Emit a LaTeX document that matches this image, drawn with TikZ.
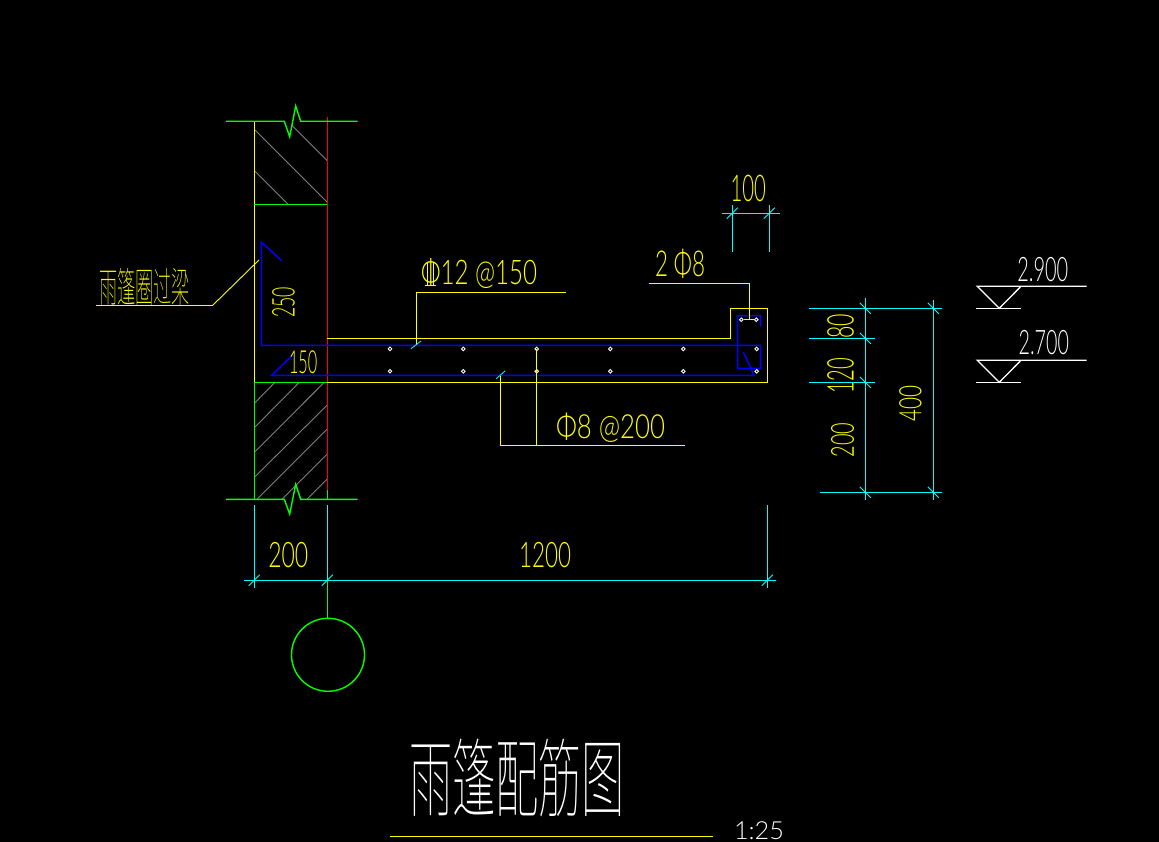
\documentclass[tikz,border=0pt]{standalone}
\usepackage{fontspec}
\usepackage{graphicx}
\IfFontExistsTF{Lato Light}{\newfontfamily\cadf{Lato Light}}{\newfontfamily\cadf{Lato}}
\IfFontExistsTF{Noto Sans CJK SC Thin}{\newfontfamily\cjkf{Noto Sans CJK SC Thin}}{\IfFontExistsTF{Noto Sans CJK SC Light}{\newfontfamily\cjkf{Noto Sans CJK SC Light}}{\newfontfamily\cjkf{Noto Sans CJK SC}}}
\definecolor{cadyellow}{RGB}{255,255,0}
\definecolor{cadgreen}{RGB}{0,255,0}
\definecolor{cadcyan}{RGB}{0,255,255}
\definecolor{cadblue}{RGB}{0,0,255}
\definecolor{cadred}{RGB}{255,0,0}
\definecolor{cadgray}{RGB}{128,128,128}
\tikzset{
  yl/.style={draw=cadyellow,line width=1.4pt},
  gr/.style={draw=cadgreen,line width=1.4pt},
  cy/.style={draw=cadcyan,line width=1.4pt},
  bl/.style={draw=cadblue,line width=1.5pt},
  rd/.style={draw=cadred,line width=1.4pt},
  wh/.style={draw=white,line width=1.3pt},
  hatchline/.style={draw=cadgray,line width=0.9pt},
  rebar/.style={circle,draw=white,fill=black,line width=0.9pt,inner sep=0pt,minimum size=3.6pt},
  txt/.style={inner sep=0pt,outer sep=0pt}
}
% name, cx, cy, w, h, rotation, colour, text
\newcommand{\cadtext}[8]{\node[txt,text=#7,rotate=#6] (#1) at (#2,#3) {\resizebox*{#4pt}{#5pt}{\cadf #8}};}
\newcommand{\cadcjk}[8]{\node[txt,text=#7,rotate=#6] (#1) at (#2,#3) {\resizebox*{#4pt}{#5pt}{\cjkf #8}};}
\newcommand{\ticka}[2]{\draw[cy,line width=0.9pt] (#1-5.5,#2+5.5) -- (#1+5.5,#2-5.5);}
\newcommand{\tickb}[2]{\draw[cy,line width=0.9pt] (#1-5.5,#2-5.5) -- (#1+5.5,#2+5.5);}
\begin{document}
\begin{tikzpicture}[x=1pt,y=-1pt]
\useasboundingbox (0,0) rectangle (1159,842);
\fill[black] (0,0) rectangle (1159,842);
% hatching
\draw[hatchline] (255,130)--(327.3,202.3) (255,171.3)--(288,204.3) (292.3,125.7)--(327.3,160.7);
\draw[hatchline] (255,402.7)--(275,382.3) (255,427)--(299.3,382.3) (255,451.7)--(324.3,382.3)
  (255,476.7)--(327.3,405) (257.3,499)--(327.3,429) (282.3,499)--(327.3,454) (307.3,499)--(327.3,479);
% wall
\draw[yl] (254.3,121.3)--(254.3,382.3);
\draw[rd] (327.3,117)--(327.3,490);
\draw[gr] (327.3,490)--(327.3,499.3);
\draw[gr] (226,121.3)--(284.3,121.3)--(289.7,136.7)--(295.7,106)--(300.7,121.3)--(357.7,121.3);
\draw[gr] (226,499.3)--(284.3,499.3)--(289.7,514)--(295.7,484.3)--(300.7,499.3)--(357.7,499.3);
\draw[gr] (254.3,204.3)--(327.3,204.3);
\draw[gr] (327.3,382.3)--(254.3,382.3)--(254.3,499.3);
% slab outline
\draw[yl] (327.3,338.3)--(730.7,338.3)--(730.7,308.3)--(767.3,308.3)--(767.3,382.3)--(327.3,382.3);
% blue bars
\draw[bl] (281.7,260.7)--(261.3,242)--(261.3,345.3)--(760.7,345.3)--(760.7,368.3)--(737.7,368.3)--(737.7,315.7)--(760.7,315.7)--(760.7,326.7);
\draw[bl] (292.7,355)--(271.7,375.3)--(754,375.3)--(743.3,352);
% rebars
\foreach \x in {390,463.3,536.7,610.3,683.3,756.7} {
  \node[rebar] at (\x,348.9) {};
  \node[rebar] at (\x,371.3) {};
}
\node[rebar] (sa) at (741.3,319.7) {};
\node[rebar] (sb) at (756.3,319.7) {};
\draw[yl] (sa)--(sb);
% leaders
\draw[yl,line width=0.9pt] (259,260)--(212.7,305.3);
\draw[yl] (212.7,305.3)--(96,305.3);
\draw[yl] (416.3,345)--(416.3,292.3)--(565.7,292.3);
\draw[yl] (500.3,376)--(500.3,445.3)--(685,445.3);
\draw[yl] (536.7,349)--(536.7,445.3);
\draw[yl] (649,283.3)--(749.3,283.3)--(749.3,319.7);
\draw[cy,line width=0.8pt] (411,348.7)--(421,341);
\draw[cy,line width=0.8pt] (496.3,378.7)--(505,371);
% bottom dimension
\draw[cy] (254.3,505)--(254.3,588);
\draw[cy] (327.3,505)--(327.3,588);
\draw[cy] (767.3,505)--(767.3,588);
\draw[cy] (244,580.3)--(776,580.3);
\ticka{254.3}{580.3} \ticka{327.3}{580.3} \ticka{767.3}{580.3}
% axis bubble
\draw[gr] (328,654.8) circle[radius=36.5];
\draw[gr] (327.3,581)--(327.3,618.3);
% top dimension
\draw[cy] (722.3,213.3)--(780,213.3);
\draw[cy] (732.3,205)--(732.3,251.7);
\draw[cy] (769.3,205)--(769.3,251.7);
\ticka{732.3}{213.3} \ticka{769.3}{213.3}
% right dimensions
\draw[cy] (865.3,298.3)--(865.3,500);
\draw[cy] (933.3,300)--(933.3,500);
\draw[cy] (809,308.3)--(941.7,308.3);
\draw[cy] (809,338.3)--(875,338.3);
\draw[cy] (809,382.3)--(875,382.3);
\draw[cy] (820,492.3)--(941.7,492.3);
\tickb{865.3}{308.3} \tickb{865.3}{338.3} \tickb{865.3}{382.3} \tickb{865.3}{492.3}
\tickb{933.3}{308.3} \tickb{933.3}{492.3}
% elevation marks
\draw[wh] (1086.7,286.3)--(977.3,286.3)--(999.3,308.3)--(1021,286.3);
\draw[wh] (976,308.3)--(1021,308.3);
\draw[wh] (1086.7,360.3)--(977.3,360.3)--(999.3,382.3)--(1021,360.3);
\draw[wh] (976,382.3)--(1021,382.3);
% title underline
\draw[yl] (390,836.3)--(712.7,836.3);
% texts
\cadcjk{tbeam}{144.5}{286.5}{91}{37}{0}{cadyellow}{雨篷圈过梁}
\cadcjk{ttitle}{517}{778}{216}{78}{0}{white}{雨篷配筋图}
\cadtext{ta}{479}{274}{116}{30}{0}{cadyellow}{Φ12 @150}
\draw[yl,line width=0.9pt] (427.7,262)--(427.7,285) (433,262)--(433,285) (425,285)--(436,285);
\cadtext{tb}{610.5}{428}{109}{29.4}{0}{cadyellow}{Φ8 @200}
\cadtext{tc}{680}{264}{50}{29.4}{0}{cadyellow}{2 Φ8}
\cadtext{td}{748.3}{188.3}{35.3}{26.7}{0}{cadyellow}{100}
\cadtext{te}{283.6}{302.3}{30.7}{22.7}{90}{cadyellow}{250}
\cadtext{tf}{303.2}{362.5}{28.3}{23}{0}{cadyellow}{150}
\cadtext{tg}{288.3}{555}{40}{25.4}{0}{cadyellow}{200}
\cadtext{th}{545}{555}{52}{25.4}{0}{cadyellow}{1200}
\cadtext{ti}{840.6}{326.6}{24.7}{26.7}{90}{cadyellow}{80}
\cadtext{tj}{840.6}{375.8}{35}{26.7}{90}{cadyellow}{120}
\cadtext{tk}{842.5}{440}{34.6}{23}{90}{cadyellow}{200}
\cadtext{tl}{910.5}{403}{36}{22.4}{90}{cadyellow}{400}
\cadtext{tm}{1042.8}{269.5}{51}{24.4}{0}{white}{2.900}
\cadtext{tn}{1043.8}{342.8}{50.3}{24.4}{0}{white}{2.700}
\cadtext{to}{759}{830.5}{50}{18}{0}{white}{1:25}
\end{tikzpicture}
\end{document}
